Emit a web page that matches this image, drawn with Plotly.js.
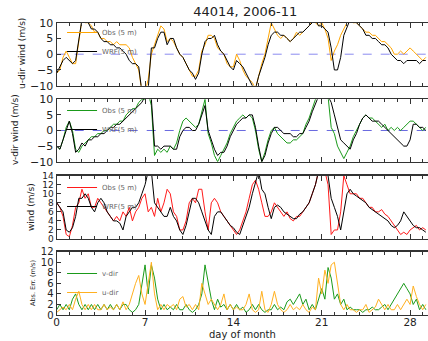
<!DOCTYPE html>
<html>
<head>
<meta charset="utf-8">
<script src="https://cdn.plot.ly/plotly-3.0.1.min.js"></script>
<style>html,body{margin:0;padding:0;background:#fff;}#chart{width:428px;height:341px;}</style>
</head>
<body>
<div id="chart"></div>
<script>
// time step: 0.25 day
var STEP = 0.25;
var xTickVals = [0, 7, 14, 21, 28];
var xTickText = ["0", "7", "14", "21", "28"];
var xTitle = "day of month";
var yTitles = ["u-dir wind (m/s)", "v-dir wind (m/s)", "wind (m/s)", "Abs. Err. (m/s)"];

var uWRF = [-6,-4,-2,-1,-2,-3,-2,5,11,11,10,8,8,7,5,4,4,3,3,2,2,1,0,-2,-3,-3,-4,-12,-12,-11,2,2,5,7,7,3,5,5,2,0,-1,-3,-5,-6,-8,-6,0,4,5,5,6,3,1,0,-2,-4,-5,-2,-3,-4,-6,-8,-10,-11,-7,-4,-1,3,6,7,7,6,6,5,4,5,6,7,7,8,9,10,11,9,9,8,7,2,-5,-5,-1,6,9,11,11,10,9,8,6,6,5,5,4,3,3,2,0,-1,-2,-2,-3,-2,-2,-2,-2,-3,-2,-2];
var uObs = [-6,-5,-1,1,-1,-3,-3,4,11,10,10,9,7,7,5,5,4,4,3,4,3,3,3,2,-1,-3,-5,-12,-12,-8,0,3,6,9,8,4,5,4,2,0,-1,-3,-5,-7,-7,-5,1,3,6,6,5,2,1,0,-3,-4,-4,0,-2,-5,-7,-8,-9,-11,-7,-3,0,5,10,8,6,5,6,5,4,5,7,6,7,8,9,11,10,9,10,8,5,-2,1,3,6,8,10,11,10,10,9,8,7,7,6,6,5,4,4,3,2,0,0,1,0,1,2,1,0,-1,-2,-1];

var vWRF = [-5,-6,-3,0,3,-1,-7,-6,-4,-5,-3,-3,-2,-2,-1,-1,0,1,1,2,2,3,4,5,6,7,8,9,11,11,10,-5,-5,-6,-5,-5,-5,-6,-6,-2,0,1,1,0,0,2,5,8,0,-3,-6,-8,-7,-7,-5,-2,0,2,3,4,4,5,5,1,-5,-10,-8,-4,-1,1,1,0,-1,-1,-1,-2,-2,-1,-1,1,3,6,9,11,12,12,11,9,5,1,-3,-4,-5,-6,-3,-1,2,4,5,4,3,3,3,2,1,0,-1,-2,-3,-4,-5,-5,-3,2,2,1,1,0];
var vObs = [-5,-6,-3,1,3,0,-6,-7,-5,-4,-3,-2,-2,-1,-1,0,0,1,2,2,3,3,5,6,7,7,9,10,10,12,8,-8,-6,-7,-6,-7,-5,-6,-4,0,3,4,3,2,1,2,6,10,-1,-4,-8,-10,-8,-6,-4,-1,1,3,4,5,4,5,4,0,-6,-10,-7,-3,0,1,-1,-2,-3,-4,-4,-3,-3,-2,-1,2,4,7,10,11,12,12,11,1,-1,-5,-7,-9,-7,-5,-2,0,2,4,5,4,4,3,2,1,2,0,1,0,1,0,1,2,3,3,2,1,0,1];

var wWRF = [8,7,6,2,1.5,2.5,5,9,9,10,9,7,6,8,9,8,6,5,4,4,3.5,2,5,6,7,7,8,10,12,15,15,8,7,6,5,5,7,5,4,2,1,3,6,9,9,8,6,4,2,1,5,6,6,5,4,3,2.5,1.5,1,3,5,7,10,13,15,11,10,7,4.5,7,7.5,7,6,5.5,5,4.5,4.5,5.5,6,7,8,10,12,15,15,15,14,9,7,5,2,6,10,11,10,9.5,9,8.5,8,7,6.5,6,5.5,5,4.5,4,3,2.5,3,4,6,5,4,3,2.5,2.5,2,1.5];
var wObs = [8,7,5,1,0.5,3,7,8,11,9,10,7,7,9,8,7,6,5,4,5,4,6,5,7,4,6,7,9,10,6,7,5,9,6,8,11,10,6,5,2,2,4,8,9,8,11,11,6,2,8,9,8,6,5,4,3,2,1,2,4,6,9,12,13,11,8,5,5,6,8,7,6,5,6,4.5,4,5,5,6,7,8,10,12,15,15,15,12,1,2,2,6,14,12,10,10,10,9,9,8,7,7,6,6,6.5,5.5,5,4,3,2,1,1.5,1,2,2.5,3,2,2.5,2];

var errV = [1,2,1,2,1,3,4,2,1,2,1,2,1,2,1,2,1,2,1,2,1,2,2,1,0.5,1,2,6,9.5,4,9.5,7,3,1,2,1,1.5,1,2,1,1,2,1,0.5,1,2,4,9.5,6,3,1,3,1.5,2,1,2,1,2,1,1.5,0.5,1,2,1,2,1,0.5,1,1,2,1,1.5,1,2.5,3,2,3,4,2,3,1,2,1,3,5,3,9,7,3,4,2,3,1,1.5,1,1,1,0.5,1,1,1.5,1,1,1.5,2,1,2,3,4,5,6,5,4,2,3,1,2,1];
var errU = [0.5,1,1.5,1,2,1,3,4.5,2,1,2,1,2,1,1,2,1,1.5,1,2,1,2.5,1,2,4,6,7.5,4,2,6,10,4,1,2,1,2,1.5,2,1,3,3.5,1.5,2,1,2,1,6,4,2,3,2,1,2,4,1,2,1,1.5,1,1,2,4,1,0.5,1,4.5,1,0.5,2,4.5,2,1,0.5,1,2,1,1.5,1,2,1,0.5,1.5,1,7,4,8.5,6,9.5,10,6,2,1,2,1,1,0.5,1,1,2,0.5,1,1.5,3,2,1,2,1,1,2,1,2,3,2,5.5,3.5,2,1,2];

var days = uWRF.map(function(_, i){ return i * STEP; });

var FONT = "DejaVu Sans, Arial, sans-serif";
var FRAME = "#333";
var XR = [0, 29.42];
var XD = [0.1325, 1];

function xAxis(anchor, showLabels) {
  return {
    domain: XD, range: XR, anchor: anchor,
    showline: true, linecolor: FRAME, linewidth: 1.2, mirror: "ticks",
    tickmode: "array", tickvals: xTickVals, ticktext: xTickText,
    ticks: "inside", ticklen: 5, tickcolor: FRAME, ticklabelstandoff: -3,
    minor: {dtick: 1, tick0: 0, ticks: "inside", ticklen: 3, tickcolor: FRAME},
    showgrid: false, zeroline: false, showticklabels: showLabels,
    tickfont: {family: FONT, size: 10.5, color: "#222"}
  };
}
function yAxis(anchor, dom, range, tickvals, tfs) {
  return {
    domain: dom, range: range, anchor: anchor,
    showline: true, linecolor: FRAME, linewidth: 1.2, mirror: false,
    tickmode: "array", tickvals: tickvals,
    ticks: "inside", ticklen: 4, tickcolor: FRAME,
    showgrid: false, zeroline: false,
    tickfont: {family: FONT, size: tfs, color: "#222"}
  };
}

var traces = [
  {x: days, y: uObs, xaxis: "x", yaxis: "y", name: "Obs (5 m)", legend: "legend", mode: "lines", line: {color: "#FFA500", width: 1}},
  {x: days, y: uWRF, xaxis: "x", yaxis: "y", name: "WRF(5 m)", legend: "legend", mode: "lines", line: {color: "#000", width: 1}},
  {x: days, y: vObs, xaxis: "x2", yaxis: "y2", name: "Obs (5 m)", legend: "legend2", mode: "lines", line: {color: "#1a9a1a", width: 1}},
  {x: days, y: vWRF, xaxis: "x2", yaxis: "y2", name: "WRF(5 m)", legend: "legend2", mode: "lines", line: {color: "#000", width: 1}},
  {x: days, y: wObs, xaxis: "x3", yaxis: "y3", name: "Obs (5 m)", legend: "legend3", mode: "lines", line: {color: "#ff1a1a", width: 1}},
  {x: days, y: wWRF, xaxis: "x3", yaxis: "y3", name: "WRF(5 m)", legend: "legend3", mode: "lines", line: {color: "#000", width: 1}},
  {x: days, y: errV, xaxis: "x4", yaxis: "y4", name: "v-dir", legend: "legend4", mode: "lines", line: {color: "#1a9a1a", width: 1}},
  {x: days, y: errU, xaxis: "x4", yaxis: "y4", name: "u-dir", legend: "legend4", mode: "lines", line: {color: "#FFB020", width: 1}}
];

function leg(yTopPx) {
  return {x: 0.145, xanchor: "left", y: 1 - yTopPx / 341, yanchor: "top", bgcolor: "rgba(0,0,0,0)", borderwidth: 0,
          font: {family: FONT, size: 7, color: "#666"}, tracegroupgap: 0};
}
function yTitle(txt, xPx, yPx, size) {
  return {text: txt, xref: "paper", yref: "paper", x: xPx / 428, y: 1 - yPx / 341,
          xanchor: "center", yanchor: "middle", textangle: -90, showarrow: false,
          font: {family: FONT, size: size, color: "#222"}};
}

var layout = {
  width: 428, height: 341,
  margin: {l: 0, r: 0, t: 0, b: 0},
  paper_bgcolor: "#fff", plot_bgcolor: "#fff",
  showlegend: true,
  title: {text: "44014, 2006-11", x: 0.573, xanchor: "center", y: 0.965, yanchor: "middle",
          font: {family: FONT, size: 13, color: "#222"}},
  xaxis: xAxis("y", false),
  xaxis2: xAxis("y2", false),
  xaxis3: xAxis("y3", false),
  xaxis4: xAxis("y4", true),
  yaxis: yAxis("x", [0.7487, 0.9334], [-10, 10], [-10, -5, 0, 5, 10], 11),
  yaxis2: yAxis("x2", [0.5258, 0.7088], [-10, 10], [-10, -5, 0, 5, 10], 11),
  yaxis3: yAxis("x3", [0.2991, 0.4848], [0, 14], [0, 2, 4, 6, 8, 10, 12, 14], 9),
  yaxis4: yAxis("x4", [0.0762, 0.2619], [0, 12], [0, 2, 4, 6, 8, 10, 12], 10),
  legend: leg(18),
  legend2: leg(96),
  legend3: leg(173),
  legend4: leg(259),
  annotations: [
    yTitle(yTitles[0], 22, 54, 9),
    yTitle(yTitles[1], 15, 130, 9),
    yTitle(yTitles[2], 31, 207, 9),
    yTitle(yTitles[3], 33, 283, 6.5),
    {text: xTitle, xref: "paper", yref: "paper", x: 242 / 428, y: 0, yanchor: "bottom",
     xanchor: "center", showarrow: false, borderpad: 0,
     font: {family: FONT, size: 10, color: "#222"}}
  ],
  shapes: [
    {type: "line", xref: "x domain", x0: 0, x1: 1, yref: "y", y0: 0, y1: 0, layer: "below",
     line: {color: "#8a8af0", width: 1, dash: "dash"}},
    {type: "line", xref: "x2 domain", x0: 0, x1: 1, yref: "y2", y0: 0, y1: 0, layer: "below",
     line: {color: "#6a6ae0", width: 1, dash: "dash"}}
  ]
};

Plotly.newPlot("chart", traces, layout, {displayModeBar: false, staticPlot: true});
</script>
</body>
</html>
